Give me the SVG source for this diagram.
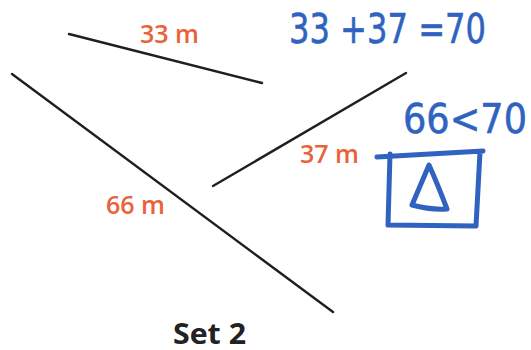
<svg xmlns="http://www.w3.org/2000/svg" width="531" height="350" viewBox="0 0 531 350">
<style>
.seg{stroke:#1f1f1f;stroke-width:2.4;stroke-linecap:round;fill:none}
.lbl{font-family:"Open Sans","Liberation Sans",Arial,sans-serif;font-size:26px;font-weight:600;fill:#E8623A}
.title{font-family:"Open Sans","Liberation Sans",Arial,sans-serif;font-size:29px;font-weight:bold;fill:#222}
.ink{stroke:#2F63BF;stroke-width:5;stroke-linecap:round;stroke-linejoin:round;fill:none}
.hand{font-family:"DejaVu Sans",sans-serif;font-size:40px;fill:#2F63BF;stroke:#2F63BF;stroke-width:0.6;stroke-linejoin:round}
</style>
<rect width="531" height="350" fill="#fff"/>
<g id="segments">
<line class="seg" x1="69" y1="34" x2="262" y2="83"/>
<line class="seg" x1="12" y1="74" x2="333" y2="312"/>
<line class="seg" x1="213" y1="186" x2="406" y2="73"/>
</g>
<g id="labels">
<text class="lbl" x="140" y="43" textLength="59" lengthAdjust="spacingAndGlyphs">33 m</text>
<text class="lbl" x="300" y="163" textLength="59" lengthAdjust="spacingAndGlyphs">37 m</text>
<text class="lbl" x="106" y="214" textLength="59" lengthAdjust="spacingAndGlyphs">66 m</text>
<text class="title" x="173" y="344" textLength="73" lengthAdjust="spacingAndGlyphs">Set 2</text>
</g>
<g id="handwriting">
<text class="hand" x="289" y="43" textLength="197" lengthAdjust="spacingAndGlyphs">33 +37 =70</text>
<text class="hand" x="403" y="133" textLength="124" lengthAdjust="spacingAndGlyphs">66&lt;70</text>
<path class="ink" d="M377 157 L483 151 M390 154 L388 225 L476 226 L480 152"/>
<path class="ink" d="M429 165 L412 205 Q430 210 447 209 Q438 185 429 165 Z"/>
</g>
</svg>
